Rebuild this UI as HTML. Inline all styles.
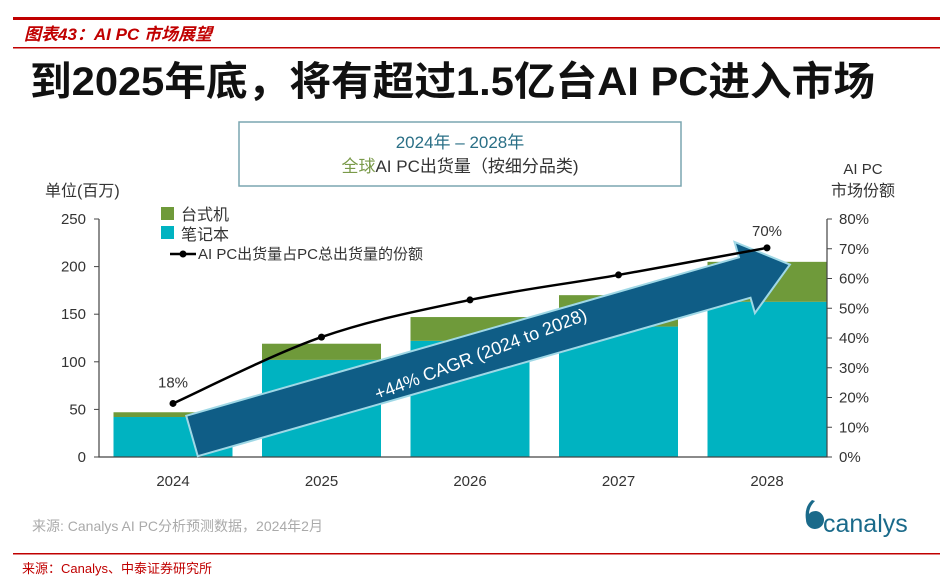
<!DOCTYPE html>
<html><head><meta charset="utf-8"><style>
body{margin:0;width:952px;height:581px;background:#fff;overflow:hidden;font-family:"Liberation Sans","Noto Sans CJK SC",sans-serif}
</style></head><body>
<svg width="952" height="581" viewBox="0 0 952 581" xmlns="http://www.w3.org/2000/svg" font-family="Liberation Sans, Noto Sans CJK SC, sans-serif">
<rect x="13" y="17" width="927" height="3" fill="#c00000"/>
<text x="24" y="40" font-size="17" font-style="italic" font-weight="bold" fill="#c00000">图表43：AI PC 市场展望</text>
<rect x="13" y="47" width="927" height="1.5" fill="#c00000"/>
<text x="30" y="95" font-size="40" font-weight="bold" fill="#111" textLength="845" lengthAdjust="spacingAndGlyphs">到2025年底，将有超过1.5亿台AI PC进入市场</text>
<rect x="239" y="122" width="442" height="64" fill="#fff" stroke="#7aa6b0" stroke-width="1.5"/>
<text x="460" y="148" font-size="17" fill="#2a6f86" text-anchor="middle">2024年 – 2028年</text>
<text x="460" y="172" font-size="17" fill="#333" text-anchor="middle"><tspan fill="#7a9a4a">全球</tspan>AI PC出货量（按细分品类)</text>
<text x="45" y="196" font-size="16" fill="#333">单位(百万)</text>
<text x="863" y="174" font-size="15" fill="#333" text-anchor="middle">AI PC</text>
<text x="863" y="196" font-size="16" fill="#333" text-anchor="middle">市场份额</text>
<g id="chart"></g>
<text x="32" y="531" font-size="14" fill="#aaa">来源: Canalys AI PC分析预测数据，2024年2月</text>
<g>
<path d="M806 520 a9 9 0 1 0 10 -9 q-5 0 -7 3 q0 -7 6 -13 l-3 -1 q-8 7 -6 20z" fill="#1a6a8a"/>
<text x="823" y="532" font-size="25" fill="#1a6a8a">canalys</text>
</g>
<rect x="13" y="553" width="927" height="1.5" fill="#c00000"/>
<text x="22" y="573" font-size="13" fill="#c00000">来源：Canalys、中泰证券研究所</text>
</svg>
<script>
const years=['2024','2025','2026','2027','2028'];
const notebook=[42,102,122,137,163];
const desktop=[5,17,25,33,42];
const share=[18,40.3,52.8,61.2,70.3];
const leftTicks=[0,50,100,150,200,250];
const rightTicks=[0,10,20,30,40,50,60,70,80];
const NS='http://www.w3.org/2000/svg';
const g=document.getElementById('chart');
const x0=99,x1=827,yb=457,yt=219;
const yL=v=>yb-(v/250)*(yb-yt);
const yR=v=>yb-(v/80)*(yb-yt);
const step=148.5;
const xc=i=>173+step*i;
const bw=119;
function el(t,a){const e=document.createElementNS(NS,t);for(const k in a)e.setAttribute(k,a[k]);g.appendChild(e);return e;}
years.forEach((y,i)=>{
 const b1=el('rect',{x:xc(i)-bw/2,y:yL(notebook[i]),width:bw,height:yb-yL(notebook[i]),fill:'#00b3c1'});
 
 
 const b2=el('rect',{x:xc(i)-bw/2,y:yL(notebook[i]+desktop[i]),width:bw,height:yL(notebook[i])-yL(notebook[i]+desktop[i]),fill:'#6f9a3a'});
 
 
 const t=el('text',{x:xc(i),y:486,'font-size':15,fill:'#333','text-anchor':'middle'});t.textContent=y;
 
 
});
const ax=el('path',{d:`M${x0} ${yt}V${yb}H${x1}V${yt}`,stroke:'#444',fill:'none','stroke-width':1.2});


leftTicks.forEach(v=>{
 el('line',{x1:x0-5,x2:x0,y1:yL(v),y2:yL(v),stroke:'#444'});
 const t=el('text',{x:x0-13,y:yL(v)+5,'font-size':15,fill:'#333','text-anchor':'end'});t.textContent=v;
 
 
});
rightTicks.forEach(v=>{
 el('line',{x1:x1,x2:x1+5,y1:yR(v),y2:yR(v),stroke:'#444'});
 const t=el('text',{x:x1+12,y:yR(v)+5,'font-size':15,fill:'#333'});t.textContent=v+'%';
 
 
});
const ag=document.createElementNS(NS,'g');g.appendChild(ag);


ag.setAttribute('transform','translate(192,436) rotate(-16)');
ag.innerHTML='<polygon points="0,-21 575,-21 575,-37 622,0 575,37 575,21 0,21" fill="#0f5d86" stroke="#9fd8e6" stroke-width="2"/><text x="300" y="7" font-size="18" fill="#fff" text-anchor="middle" transform="rotate(-5 300 0)">+44% CAGR (2024 to 2028)</text>';
const P=share.map((v,i)=>[xc(i),yR(v)]);
let d='M'+P[0][0]+' '+P[0][1];
for(let i=0;i<P.length-1;i++){
 const p0=P[Math.max(i-1,0)],p1=P[i],p2=P[i+1],p3=P[Math.min(i+2,P.length-1)];
 const c1=[p1[0]+(p2[0]-p0[0])/6,p1[1]+(p2[1]-p0[1])/6],c2=[p2[0]-(p3[0]-p1[0])/6,p2[1]-(p3[1]-p1[1])/6];
 d+=`C${c1[0]} ${c1[1]} ${c2[0]} ${c2[1]} ${p2[0]} ${p2[1]}`;
}
const ln=el('path',{d:d,stroke:'#000',fill:'none','stroke-width':2.5,'stroke-linejoin':'round'});


share.forEach((v,i)=>{const c=el('circle',{cx:xc(i),cy:yR(v),r:3.5,fill:'#000'});
 
 });
const l1=el('text',{x:xc(0),y:yR(share[0])-16,'font-size':15,fill:'#333','text-anchor':'middle'});l1.textContent=Math.round(share[0])+'%';


const l2=el('text',{x:xc(4),y:yR(share[4])-12,'font-size':15,fill:'#333','text-anchor':'middle'});l2.textContent=Math.round(share[4])+'%';


const lg=document.createElementNS(NS,'g');g.appendChild(lg);


lg.innerHTML='<rect x="161" y="207" width="13" height="13" fill="#6f9a3a"/><text x="181" y="220" font-size="16" fill="#333">台式机</text><rect x="161" y="226" width="13" height="13" fill="#00b3c1"/><text x="181" y="240" font-size="16" fill="#333">笔记本</text><line x1="170" y1="254" x2="196" y2="254" stroke="#000" stroke-width="2.5"/><circle cx="183" cy="254" r="3.5"/><text x="198" y="259" font-size="15" fill="#333">AI PC出货量占PC总出货量的份额</text>';
</script>
</body></html>
